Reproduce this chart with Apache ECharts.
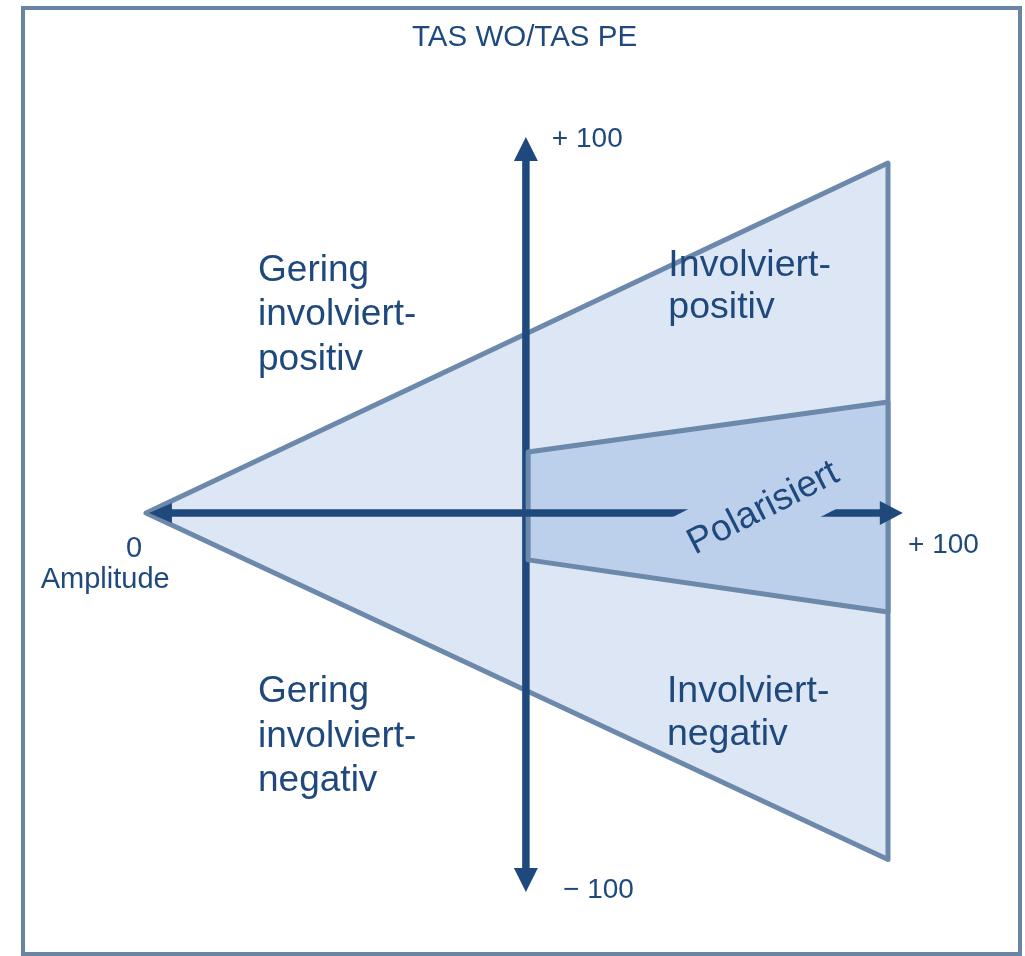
<!DOCTYPE html>
<html>
<head>
<meta charset="utf-8">
<script src="https://cdn.jsdelivr.net/npm/echarts@6/dist/echarts.min.js"></script>
<style>
  html, body { margin: 0; padding: 0; background: #fff; }
  #chart { width: 1025px; height: 956px; }
</style>
</head>
<body>
<div id="chart"></div>
<script>
// data (x = Amplitude 0..100, y = TAS WO/TAS PE -100..+100)
var triangle = [[0, 0], [100, 100], [100, -99]];
var polarized = [[51.5, 17.4], [100, 31.7], [100, -28.3], [51.5, -13.4]];
var verticalAxis = [[51.2, -108.3], [51.2, 107.4]];
var horizontalAxis = [[0.4, 0], [102, 0]];
var tickTexts = ['+ 100', '\u2212 100', '+ 100', '0', 'Amplitude'];
var tickAnchors = [[54.7, 106.8], [56.2, -107.7], [102.7, -9.2], [-1.6, -10.4], [-5.5, -19.1]];
var areaNames = ['Gering\ninvolviert-\npositiv', 'Involviert-\npositiv', 'Polarisiert',
  'Gering\ninvolviert-\nnegativ', 'Involviert-\nnegativ'];
var areaAnchors = [[15.1, 56.6], [70.4, 64.7], [83.2, 1.3], [15.1, -63.8], [70.2, -57.3]];

var dark = '#1f497d';
var edge = '#6c88ab';
var FONT = '"Liberation Sans", Arial, sans-serif';

var chart = echarts.init(document.getElementById('chart'));

//多边形
function polygonSeries(points, fill, z) {
  return {
    type: 'custom',
    z: z,
    silent: true,
    clip: false,
    data: [0],
    renderItem: function(params, api) {
      var pts = points.map(function(p) { return api.coord(p) })
      return {
        type: 'polygon',
        shape: { points: pts },
        style: { fill: fill, stroke: edge, lineWidth: 5, lineJoin: 'round' }
      }
    }
  }
}

//箭头 (heads = [start, end])
function arrowSeries(line, heads, z) {
  return {
    type: 'custom',
    z: z,
    silent: true,
    clip: false,
    data: [0],
    renderItem: function(params, api) {
      var a = api.coord(line[0]), b = api.coord(line[1])
      var dx = b[0] - a[0], dy = b[1] - a[1]
      var len = Math.sqrt(dx * dx + dy * dy)
      var ux = dx / len, uy = dy / len
      var children = []
      var s = a.slice(), e = b.slice()
      function head(tip, dir, h) {
        var bx = tip[0] - dir[0] * h.len, by = tip[1] - dir[1] * h.len
        children.push({
          type: 'polygon',
          shape: { points: [tip, [bx - dir[1] * h.half, by + dir[0] * h.half], [bx + dir[1] * h.half, by - dir[0] * h.half]] },
          style: { fill: dark }
        })
        return [bx + dir[0] * 2, by + dir[1] * 2]
      }
      if (heads[0]) s = head(a, [-ux, -uy], heads[0])
      if (heads[1]) e = head(b, [ux, uy], heads[1])
      children.unshift({
        type: 'line',
        shape: { x1: s[0], y1: s[1], x2: e[0], y2: e[1] },
        style: { stroke: dark, lineWidth: 7.5 }
      })
      return { type: 'group', children: children }
    }
  }
}

//文字
function textSeries(texts, anchors, opts, z) {
  return {
    type: 'custom',
    z: z,
    silent: true,
    clip: false,
    data: texts.map(function(t, i) { return i }),
    renderItem: function(params, api) {
      var i = params.dataIndex
      var o = opts[i] || {}
      var p = api.coord(anchors[i])
      var style = {
        text: texts[i],
        fill: dark,
        font: (o.size || 28) + 'px ' + FONT,
        lineHeight: o.lineHeight || (o.size || 28) * 1.2,
        align: o.align || 'left',
        textAlign: o.align || 'left',
        verticalAlign: 'middle',
        textVerticalAlign: 'middle'
      }
      if (o.bg) {
        style.backgroundColor = o.bg
        style.padding = o.padding
      }
      return { type: 'text', x: p[0], y: p[1], rotation: o.rotation || 0, style: style }
    }
  }
}

var tickOpts = [{}, {}, {}, { align: 'center', size: 29 }, { align: 'center', size: 29 }];
var areaOpts = [
  { size: 37, lineHeight: 44.5 },
  { size: 37.5, lineHeight: 42 },
  { size: 37, lineHeight: 4, align: 'center', rotation: 27 * Math.PI / 180, bg: '#bcd0ec', padding: [58.7, 6, 4.3, 6] },
  { size: 37, lineHeight: 44.5 },
  { size: 37.5, lineHeight: 43 }
];

var option = {
  animation: false,
  backgroundColor: '#fff',
  title: {
    text: 'TAS WO/TAS PE',
    left: 412,
    top: 23,
    padding: 0,
    textStyle: { color: dark, fontSize: 29.5, fontWeight: 'normal', fontFamily: FONT }
  },
  graphic: [{
    type: 'rect',
    shape: { x: 23, y: 8, width: 997, height: 946 },
    style: { fill: 'transparent', stroke: '#6a84a6', lineWidth: 4 },
    silent: true
  }],
  grid: { left: 34.7, width: 964.6, top: 93, height: 840 },
  xAxis: { type: 'value', min: -15, max: 115, show: false },
  yAxis: { type: 'value', min: -120, max: 120, show: false },
  series: [
    polygonSeries(triangle, '#dce6f4', 1),
    arrowSeries(verticalAxis, [{ len: 24, half: 12 }, { len: 24, half: 12 }], 2),
    polygonSeries(polarized, '#bcd0ec', 3),
    arrowSeries(horizontalAxis, [{ len: 23, half: 10 }, { len: 23, half: 12 }], 4),
    textSeries(areaNames, areaAnchors, areaOpts, 5),
    textSeries(tickTexts, tickAnchors, tickOpts, 5)
  ]
};
chart.setOption(option);
</script>
</body>
</html>
